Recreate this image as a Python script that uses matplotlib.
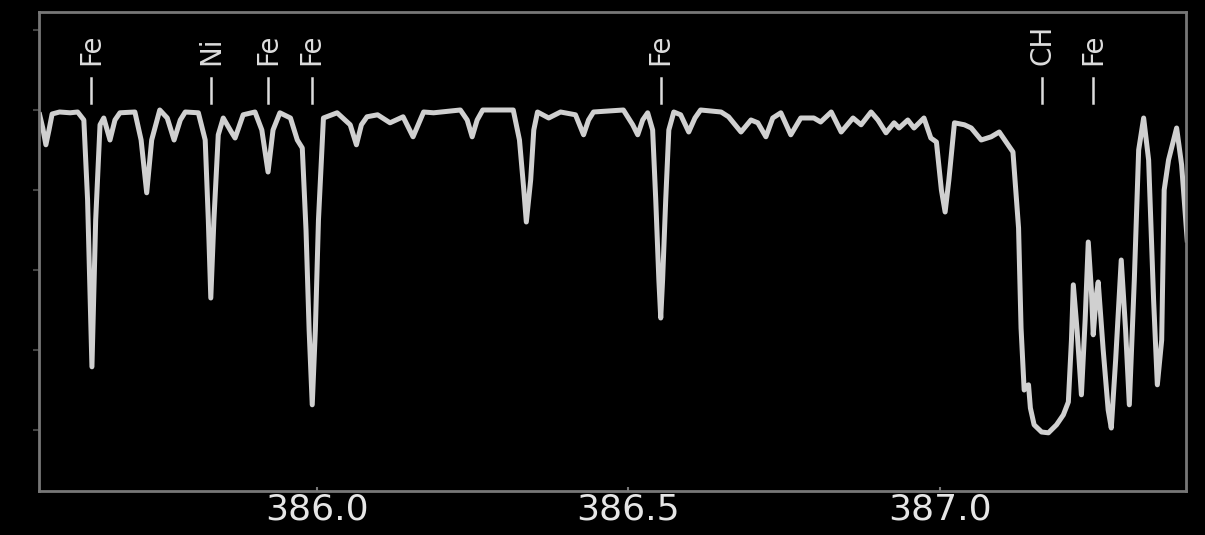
import matplotlib.pyplot as plt
import numpy as np

# spectrum around the CH band, wavelength in nm, normalised flux
wavelength = [385.554, 385.559, 385.564, 385.569, 385.574, 385.586, 385.603, 385.615,
              385.625, 385.631, 385.638, 385.644, 385.651, 385.657, 385.667, 385.675,
              385.683, 385.707, 385.717, 385.726, 385.734, 385.747, 385.759, 385.770,
              385.780, 385.788, 385.809, 385.820, 385.825, 385.829, 385.834, 385.841,
              385.849, 385.862, 385.868, 385.881, 385.900, 385.911, 385.921, 385.929,
              385.940, 385.957, 385.968, 385.976, 385.982, 385.987, 385.992, 385.997,
              386.002, 386.010, 386.032, 386.053, 386.063, 386.071, 386.080, 386.097,
              386.117, 386.138, 386.154, 386.171, 386.187, 386.230, 386.241, 386.249,
              386.257, 386.266, 386.315, 386.325, 386.332, 386.336, 386.343, 386.348,
              386.354, 386.372, 386.391, 386.415, 386.428, 386.436, 386.444, 386.492,
              386.507, 386.515, 386.523, 386.531, 386.539, 386.544, 386.549, 386.552,
              386.555, 386.560, 386.565, 386.573, 386.584, 386.597, 386.607, 386.616,
              386.649, 386.661, 386.681, 386.697, 386.708, 386.721, 386.732, 386.745,
              386.761, 386.777, 386.798, 386.809, 386.826, 386.842, 386.861, 386.874,
              386.890, 386.901, 386.914, 386.927, 386.935, 386.949, 386.959, 386.975,
              386.986, 386.995, 387.003, 387.009, 387.015, 387.024, 387.040, 387.051,
              387.067, 387.083, 387.096, 387.107, 387.118, 387.127, 387.131, 387.136,
              387.143, 387.146, 387.152, 387.164, 387.175, 387.188, 387.199, 387.207,
              387.212, 387.215, 387.221, 387.228, 387.234, 387.239, 387.244, 387.247,
              387.252, 387.255, 387.263, 387.271, 387.276, 387.283, 387.292, 387.299,
              387.305, 387.313, 387.320, 387.328, 387.336, 387.344, 387.350, 387.357,
              387.361, 387.368, 387.381, 387.389, 387.398]
flux = [0.988, 0.955, 0.913, 0.950, 0.990, 0.995, 0.993, 0.995,
        0.975, 0.775, 0.358, 0.725, 0.963, 0.980, 0.925, 0.975,
        0.993, 0.995, 0.925, 0.793, 0.925, 1.000, 0.980, 0.925,
        0.975, 0.995, 0.993, 0.925, 0.725, 0.530, 0.725, 0.938,
        0.980, 0.945, 0.930, 0.988, 0.995, 0.950, 0.845, 0.950,
        0.993, 0.980, 0.925, 0.905, 0.700, 0.450, 0.263, 0.450,
        0.725, 0.980, 0.993, 0.963, 0.913, 0.963, 0.983, 0.988,
        0.968, 0.983, 0.933, 0.995, 0.993, 1.000, 0.975, 0.933,
        0.975, 1.000, 1.000, 0.925, 0.800, 0.720, 0.825, 0.950,
        0.995, 0.980, 0.995, 0.988, 0.938, 0.975, 0.995, 1.000,
        0.963, 0.938, 0.975, 0.993, 0.950, 0.775, 0.575, 0.480,
        0.575, 0.775, 0.950, 0.995, 0.988, 0.945, 0.980, 1.000,
        0.995, 0.983, 0.945, 0.975, 0.968, 0.933, 0.980, 0.993,
        0.938, 0.980, 0.980, 0.970, 0.995, 0.945, 0.980, 0.963,
        0.995, 0.975, 0.943, 0.968, 0.955, 0.975, 0.955, 0.980,
        0.930, 0.920, 0.800, 0.745, 0.825, 0.968, 0.963, 0.955,
        0.925, 0.933, 0.945, 0.920, 0.895, 0.705, 0.455, 0.300,
        0.313, 0.255, 0.213, 0.195, 0.193, 0.213, 0.238, 0.270,
        0.425, 0.563, 0.450, 0.288, 0.475, 0.670, 0.550, 0.438,
        0.538, 0.570, 0.400, 0.250, 0.205, 0.375, 0.625, 0.450,
        0.263, 0.575, 0.900, 0.980, 0.875, 0.525, 0.313, 0.425,
        0.800, 0.875, 0.955, 0.863, 0.675]

# identified lines
line_names = ["Fe", "Ni", "Fe", "Fe", "Fe", "CH", "Fe"]
line_pos = [385.637, 385.830, 385.921, 385.991, 386.552, 387.165, 387.247]

xticks = [386.0, 386.5, 387.0]

fig = plt.figure(figsize=(12.05, 5.35), dpi=100, facecolor="black")
ax = fig.add_axes([0.0324, 0.0822, 0.9518, 0.8954], facecolor="black")

ax.plot(wavelength, flux, color="#d0d0d0", lw=3.6, solid_joinstyle="round")

for name, pos in zip(line_names, line_pos):
    ax.plot([pos, pos], [1.0175, 1.08], color="#dddddd", lw=1.8)
    ax.text(pos, 1.112, name, rotation=90, ha="center", va="bottom",
            color="#dddddd", fontsize=20)

ax.set_xlim(385.553, 387.396)
ax.set_ylim(0.0475, 1.245)
ax.set_xticks(xticks)
ax.set_xticklabels([f"{t:.1f}" for t in xticks])
ax.set_yticks(np.arange(0.2, 1.21, 0.2))
ax.set_yticklabels([])

ax.tick_params(axis="x", colors="#777777", labelcolor="#e6e6e6", labelsize=26,
               length=3, width=1.5, direction="in", pad=1)
ax.tick_params(axis="y", colors="#444444", length=4, width=1.5)
for s in ax.spines.values():
    s.set_color("#777777")
    s.set_linewidth(2)

fig.savefig("out.png", dpi=100, facecolor="black")
